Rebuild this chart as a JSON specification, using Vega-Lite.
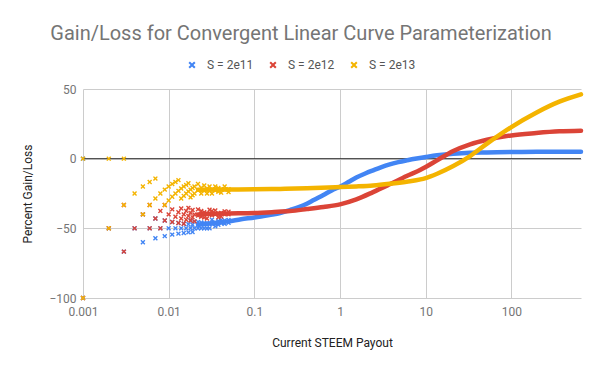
{
 "$schema": "https://vega.github.io/schema/vega-lite/v6.json",
 "width": 498,
 "height": 209,
 "autosize": {"type": "none"},
 "padding": {"left": 83, "top": 89, "right": 19, "bottom": 73},
 "background": "white",
 "config": {"font": "Roboto", "view": {"stroke": null}},
 "title": {"text": "Gain/Loss for Convergent Linear Curve Parameterization", "fontSize": 20, "fontWeight": "normal", "color": "#757575", "anchor": "middle", "dx": -31, "offset": 15},
 "datasets": {
  "pts": [
   {"s":"S = 2e11","x":0.001,"y":-100},{"s":"S = 2e11","x":0.001,"y":0},{"s":"S = 2e11","x":0.002,"y":-50},{"s":"S = 2e11","x":0.003,"y":-66.7},{"s":"S = 2e11","x":0.004,"y":-50},{"s":"S = 2e11","x":0.005,"y":-60},{"s":"S = 2e11","x":0.005,"y":-40},{"s":"S = 2e11","x":0.006,"y":-50},{"s":"S = 2e11","x":0.007,"y":-57.1},{"s":"S = 2e11","x":0.007,"y":-42.9},{"s":"S = 2e11","x":0.008,"y":-50},{"s":"S = 2e11","x":0.009,"y":-55.6},{"s":"S = 2e11","x":0.009,"y":-44.4},{"s":"S = 2e11","x":0.010,"y":-50},{"s":"S = 2e11","x":0.011,"y":-54.5},{"s":"S = 2e11","x":0.011,"y":-45.5},{"s":"S = 2e11","x":0.012,"y":-50},{"s":"S = 2e11","x":0.013,"y":-53.8},{"s":"S = 2e11","x":0.013,"y":-46.2},{"s":"S = 2e11","x":0.014,"y":-50},{"s":"S = 2e11","x":0.015,"y":-53.3},{"s":"S = 2e11","x":0.015,"y":-46.7},{"s":"S = 2e11","x":0.016,"y":-50},{"s":"S = 2e11","x":0.017,"y":-52.9},{"s":"S = 2e11","x":0.017,"y":-47.1},{"s":"S = 2e11","x":0.018,"y":-50},{"s":"S = 2e11","x":0.018,"y":-44.4},{"s":"S = 2e11","x":0.019,"y":-52.6},{"s":"S = 2e11","x":0.019,"y":-47.4},{"s":"S = 2e11","x":0.02,"y":-50},{"s":"S = 2e11","x":0.02,"y":-45},{"s":"S = 2e11","x":0.022,"y":-50},{"s":"S = 2e11","x":0.022,"y":-45.5},{"s":"S = 2e11","x":0.024,"y":-50},{"s":"S = 2e11","x":0.024,"y":-45.8},{"s":"S = 2e11","x":0.026,"y":-50},{"s":"S = 2e11","x":0.026,"y":-46.2},{"s":"S = 2e11","x":0.028,"y":-50},{"s":"S = 2e11","x":0.028,"y":-46.4},{"s":"S = 2e11","x":0.03,"y":-50},{"s":"S = 2e11","x":0.03,"y":-46.7},{"s":"S = 2e11","x":0.032,"y":-46.9},{"s":"S = 2e11","x":0.032,"y":-43.8},{"s":"S = 2e11","x":0.035,"y":-48.6},{"s":"S = 2e11","x":0.035,"y":-45.7},{"s":"S = 2e11","x":0.038,"y":-47.4},{"s":"S = 2e11","x":0.038,"y":-44.7},{"s":"S = 2e11","x":0.041,"y":-46.3},{"s":"S = 2e11","x":0.041,"y":-43.9},{"s":"S = 2e11","x":0.045,"y":-46.7},{"s":"S = 2e11","x":0.045,"y":-44.4},{"s":"S = 2e11","x":0.05,"y":-46},{"s":"S = 2e11","x":0.05,"y":-44},
   {"s":"S = 2e12","x":0.001,"y":-100},{"s":"S = 2e12","x":0.002,"y":-50},{"s":"S = 2e12","x":0.003,"y":-66.7},{"s":"S = 2e12","x":0.003,"y":-33.3},{"s":"S = 2e12","x":0.004,"y":-50},{"s":"S = 2e12","x":0.005,"y":-40},{"s":"S = 2e12","x":0.006,"y":-50},{"s":"S = 2e12","x":0.006,"y":-33.3},{"s":"S = 2e12","x":0.007,"y":-42.9},{"s":"S = 2e12","x":0.008,"y":-50},{"s":"S = 2e12","x":0.008,"y":-37.5},{"s":"S = 2e12","x":0.009,"y":-44.4},{"s":"S = 2e12","x":0.009,"y":-33.3},{"s":"S = 2e12","x":0.01,"y":-40},{"s":"S = 2e12","x":0.011,"y":-45.5},{"s":"S = 2e12","x":0.011,"y":-36.4},{"s":"S = 2e12","x":0.012,"y":-41.7},{"s":"S = 2e12","x":0.013,"y":-46.2},{"s":"S = 2e12","x":0.013,"y":-38.5},{"s":"S = 2e12","x":0.014,"y":-42.9},{"s":"S = 2e12","x":0.014,"y":-35.7},{"s":"S = 2e12","x":0.015,"y":-40},{"s":"S = 2e12","x":0.015,"y":-46.7},{"s":"S = 2e12","x":0.016,"y":-43.8},{"s":"S = 2e12","x":0.016,"y":-37.5},{"s":"S = 2e12","x":0.017,"y":-41.2},{"s":"S = 2e12","x":0.017,"y":-35.3},{"s":"S = 2e12","x":0.018,"y":-44.4},{"s":"S = 2e12","x":0.018,"y":-38.9},{"s":"S = 2e12","x":0.019,"y":-42.1},{"s":"S = 2e12","x":0.019,"y":-36.8},{"s":"S = 2e12","x":0.02,"y":-40},{"s":"S = 2e12","x":0.02,"y":-45},{"s":"S = 2e12","x":0.022,"y":-40.9},{"s":"S = 2e12","x":0.022,"y":-36.4},{"s":"S = 2e12","x":0.024,"y":-41.7},{"s":"S = 2e12","x":0.024,"y":-37.5},{"s":"S = 2e12","x":0.026,"y":-42.3},{"s":"S = 2e12","x":0.026,"y":-38.5},{"s":"S = 2e12","x":0.028,"y":-39.3},{"s":"S = 2e12","x":0.028,"y":-42.9},{"s":"S = 2e12","x":0.03,"y":-40},{"s":"S = 2e12","x":0.03,"y":-36.7},{"s":"S = 2e12","x":0.032,"y":-40.6},{"s":"S = 2e12","x":0.032,"y":-37.5},{"s":"S = 2e12","x":0.035,"y":-40},{"s":"S = 2e12","x":0.035,"y":-37.1},{"s":"S = 2e12","x":0.038,"y":-39.5},{"s":"S = 2e12","x":0.038,"y":-42.1},{"s":"S = 2e12","x":0.041,"y":-41.5},{"s":"S = 2e12","x":0.041,"y":-39},{"s":"S = 2e12","x":0.045,"y":-40},{"s":"S = 2e12","x":0.045,"y":-37.8},{"s":"S = 2e12","x":0.05,"y":-40},{"s":"S = 2e12","x":0.05,"y":-38},
   {"s":"S = 2e13","x":0.001,"y":-100},{"s":"S = 2e13","x":0.001,"y":0},{"s":"S = 2e13","x":0.002,"y":-50},{"s":"S = 2e13","x":0.002,"y":0},{"s":"S = 2e13","x":0.003,"y":-33.3},{"s":"S = 2e13","x":0.003,"y":0},{"s":"S = 2e13","x":0.004,"y":-25},{"s":"S = 2e13","x":0.005,"y":-40},{"s":"S = 2e13","x":0.005,"y":-20},{"s":"S = 2e13","x":0.006,"y":-33.3},{"s":"S = 2e13","x":0.006,"y":-16.7},{"s":"S = 2e13","x":0.007,"y":-28.6},{"s":"S = 2e13","x":0.007,"y":-14.3},{"s":"S = 2e13","x":0.008,"y":-25},{"s":"S = 2e13","x":0.009,"y":-33.3},{"s":"S = 2e13","x":0.009,"y":-22.2},{"s":"S = 2e13","x":0.01,"y":-30},{"s":"S = 2e13","x":0.01,"y":-20},{"s":"S = 2e13","x":0.011,"y":-27.3},{"s":"S = 2e13","x":0.011,"y":-18.2},{"s":"S = 2e13","x":0.012,"y":-25},{"s":"S = 2e13","x":0.012,"y":-16.7},{"s":"S = 2e13","x":0.013,"y":-23.1},{"s":"S = 2e13","x":0.013,"y":-15.4},{"s":"S = 2e13","x":0.014,"y":-28.6},{"s":"S = 2e13","x":0.014,"y":-21.4},{"s":"S = 2e13","x":0.015,"y":-26.7},{"s":"S = 2e13","x":0.015,"y":-20},{"s":"S = 2e13","x":0.016,"y":-25},{"s":"S = 2e13","x":0.016,"y":-18.8},{"s":"S = 2e13","x":0.017,"y":-23.5},{"s":"S = 2e13","x":0.017,"y":-17.6},{"s":"S = 2e13","x":0.018,"y":-22.2},{"s":"S = 2e13","x":0.018,"y":-27.8},{"s":"S = 2e13","x":0.019,"y":-26.3},{"s":"S = 2e13","x":0.019,"y":-21.1},{"s":"S = 2e13","x":0.02,"y":-25},{"s":"S = 2e13","x":0.02,"y":-20},{"s":"S = 2e13","x":0.022,"y":-22.7},{"s":"S = 2e13","x":0.022,"y":-18.2},{"s":"S = 2e13","x":0.024,"y":-25},{"s":"S = 2e13","x":0.024,"y":-20.8},{"s":"S = 2e13","x":0.026,"y":-23.1},{"s":"S = 2e13","x":0.026,"y":-19.2},{"s":"S = 2e13","x":0.028,"y":-25},{"s":"S = 2e13","x":0.028,"y":-21.4},{"s":"S = 2e13","x":0.03,"y":-23.3},{"s":"S = 2e13","x":0.03,"y":-20},{"s":"S = 2e13","x":0.032,"y":-21.9},{"s":"S = 2e13","x":0.032,"y":-25},{"s":"S = 2e13","x":0.035,"y":-22.9},{"s":"S = 2e13","x":0.035,"y":-20},{"s":"S = 2e13","x":0.038,"y":-23.7},{"s":"S = 2e13","x":0.038,"y":-21.1},{"s":"S = 2e13","x":0.041,"y":-22},{"s":"S = 2e13","x":0.041,"y":-24.4},{"s":"S = 2e13","x":0.045,"y":-22.2},{"s":"S = 2e13","x":0.045,"y":-20},{"s":"S = 2e13","x":0.05,"y":-22},{"s":"S = 2e13","x":0.05,"y":-24}
  ],
  "curve": [
   {"s":"S = 2e11","x":0.022,"y":-47.5},{"s":"S = 2e11","x":0.03,"y":-46.5},{"s":"S = 2e11","x":0.05,"y":-45},{"s":"S = 2e11","x":0.07,"y":-43.5},{"s":"S = 2e11","x":0.1,"y":-42.2},{"s":"S = 2e11","x":0.15,"y":-40.4},{"s":"S = 2e11","x":0.2,"y":-39},{"s":"S = 2e11","x":0.26,"y":-36.9},{"s":"S = 2e11","x":0.33,"y":-34.8},{"s":"S = 2e11","x":0.41,"y":-32.3},{"s":"S = 2e11","x":0.5,"y":-29.5},{"s":"S = 2e11","x":0.64,"y":-26.1},{"s":"S = 2e11","x":0.8,"y":-22.8},{"s":"S = 2e11","x":1,"y":-20.1},{"s":"S = 2e11","x":1.25,"y":-16.8},{"s":"S = 2e11","x":1.55,"y":-13.6},{"s":"S = 2e11","x":2,"y":-10.5},{"s":"S = 2e11","x":2.43,"y":-8.4},{"s":"S = 2e11","x":3,"y":-6.2},{"s":"S = 2e11","x":3.8,"y":-4.1},{"s":"S = 2e11","x":4.8,"y":-2.5},{"s":"S = 2e11","x":6,"y":-1.2},{"s":"S = 2e11","x":7.5,"y":0},{"s":"S = 2e11","x":10,"y":1.2},{"s":"S = 2e11","x":13.6,"y":2.4},{"s":"S = 2e11","x":21,"y":3.6},{"s":"S = 2e11","x":33,"y":4.3},{"s":"S = 2e11","x":52,"y":4.5},{"s":"S = 2e11","x":100,"y":4.8},{"s":"S = 2e11","x":200,"y":4.9},{"s":"S = 2e11","x":650,"y":5},
   {"s":"S = 2e12","x":0.022,"y":-40},{"s":"S = 2e12","x":0.03,"y":-39.6},{"s":"S = 2e12","x":0.05,"y":-39.3},{"s":"S = 2e12","x":0.1,"y":-39},{"s":"S = 2e12","x":0.17,"y":-38.3},{"s":"S = 2e12","x":0.26,"y":-37.6},{"s":"S = 2e12","x":0.41,"y":-36.2},{"s":"S = 2e12","x":0.64,"y":-34.7},{"s":"S = 2e12","x":1,"y":-32.8},{"s":"S = 2e12","x":1.55,"y":-29.2},{"s":"S = 2e12","x":2.43,"y":-24},{"s":"S = 2e12","x":3.8,"y":-18.4},{"s":"S = 2e12","x":6,"y":-12.5},{"s":"S = 2e12","x":8.7,"y":-8},{"s":"S = 2e12","x":10,"y":-6},{"s":"S = 2e12","x":13.6,"y":-1.2},{"s":"S = 2e12","x":21,"y":5.5},{"s":"S = 2e12","x":33,"y":10.3},{"s":"S = 2e12","x":52,"y":13.6},{"s":"S = 2e12","x":100,"y":16.7},{"s":"S = 2e12","x":195,"y":18.4},{"s":"S = 2e12","x":363,"y":19.6},{"s":"S = 2e12","x":650,"y":20.1},
   {"s":"S = 2e13","x":0.022,"y":-22.3},{"s":"S = 2e13","x":0.05,"y":-22.2},{"s":"S = 2e13","x":0.1,"y":-22},{"s":"S = 2e13","x":0.2,"y":-21.7},{"s":"S = 2e13","x":0.41,"y":-21.3},{"s":"S = 2e13","x":1,"y":-20.4},{"s":"S = 2e13","x":1.55,"y":-19.9},{"s":"S = 2e13","x":2.43,"y":-19.2},{"s":"S = 2e13","x":3.8,"y":-18},{"s":"S = 2e13","x":6,"y":-16.5},{"s":"S = 2e13","x":8.7,"y":-14.9},{"s":"S = 2e13","x":10,"y":-13.9},{"s":"S = 2e13","x":13.6,"y":-10.8},{"s":"S = 2e13","x":21,"y":-5.3},{"s":"S = 2e13","x":33,"y":1.9},{"s":"S = 2e13","x":52,"y":10.8},{"s":"S = 2e13","x":100,"y":22.7},{"s":"S = 2e13","x":195,"y":33},{"s":"S = 2e13","x":363,"y":40.9},{"s":"S = 2e13","x":650,"y":46.2}
  ],
  "zero": [{"v": 0}]
 },
 "resolve": {"legend": {"color": "independent"}},
 "layer": [
  {
   "data": {"name": "zero"},
   "mark": {"type": "rule", "color": "#333333", "strokeWidth": 1},
   "encoding": {"y": {"field": "v", "type": "quantitative", "scale": {"domain": [-100, 50], "nice": false, "zero": false}}}
  },
  {
   "data": {"name": "curve"},
   "mark": {"type": "line", "strokeWidth": 4.5, "strokeCap": "round", "interpolate": "monotone"},
   "encoding": {
    "x": {"field": "x", "type": "quantitative", "scale": {"type": "log", "domain": [0.001, 650], "nice": false}},
    "y": {"field": "y", "type": "quantitative"},
    "color": {"field": "s", "type": "nominal", "legend": null, "scale": {"domain": ["S = 2e11", "S = 2e12", "S = 2e13"], "range": ["#4285F4", "#DB4437", "#F4B400"]}}
   }
  },
  {
   "data": {"name": "pts"},
   "mark": {"type": "point", "shape": "M-1,-0.6L-0.6,-1L0,-0.4L0.6,-1L1,-0.6L0.4,0L1,0.6L0.6,1L0,0.4L-0.6,1L-1,0.6L-0.4,0Z", "filled": true, "size": 24, "opacity": 1},
   "encoding": {
    "x": {"field": "x", "type": "quantitative", "scale": {"type": "log", "domain": [0.001, 650], "nice": false},
     "axis": {"title": "Current STEEM Payout", "values": [0.001, 0.01, 0.1, 1, 10, 100], "format": "~g", "grid": true, "gridColor": "#cccccc", "domain": false, "ticks": false, "labelColor": "#757575", "labelFontSize": 12, "labelPadding": 8, "labelOverlap": false, "labelFlush": false, "titleColor": "#222222", "titleFontSize": 12, "titleFontWeight": "normal", "titlePadding": 20}},
    "y": {"field": "y", "type": "quantitative", "scale": {"domain": [-100, 50], "nice": false, "zero": false},
     "axis": {"title": "Percent Gain/Loss", "values": [-100, -50, 0, 50], "grid": true, "gridColor": "#cccccc", "domain": false, "ticks": false, "labelColor": "#757575", "labelFontSize": 12, "labelPadding": 7, "titleColor": "#222222", "titleFontSize": 12, "titleFontWeight": "normal", "titlePadding": 14}},
    "color": {"field": "s", "type": "nominal", "scale": {"domain": ["S = 2e11", "S = 2e12", "S = 2e13"], "range": ["#4285F4", "#DB4437", "#F4B400"]},
     "legend": {"orient": "none", "direction": "horizontal", "legendX": 103, "legendY": -30, "title": null, "padding": 0, "symbolType": "M-1,-0.6L-0.6,-1L0,-0.4L0.6,-1L1,-0.6L0.4,0L1,0.6L0.6,1L0,0.4L-0.6,1L-1,0.6L-0.4,0Z", "symbolSize": 50, "symbolStrokeWidth": 0, "labelFontSize": 12, "labelColor": "#555555", "labelOffset": 9, "columnPadding": 13}}
   }
  }
 ]
}
